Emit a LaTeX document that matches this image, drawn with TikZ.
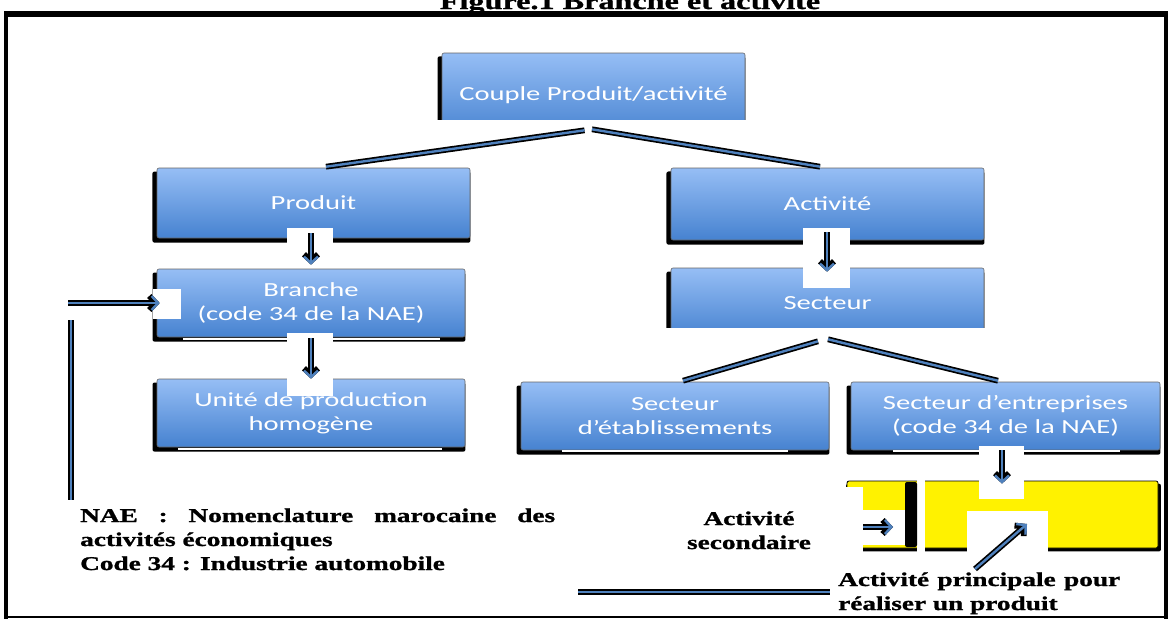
\documentclass[tikz,border=0pt]{standalone}
\usepackage{fontspec}
\usetikzlibrary{arrows.meta,shadows,calc}
\newfontfamily\boxfont[FakeStretch=1.43]{Carlito}
\newfontfamily\serbf[FakeStretch=1.4,BoldFeatures={FakeBold=1.2}]{Liberation Serif}
\definecolor{lnblue}{RGB}{79,129,189}
\definecolor{boxtop}{RGB}{150,190,245}
\definecolor{boxbot}{RGB}{70,130,208}
\tikzset{
  bluebox/.style={rounded corners=2pt, top color=boxtop, bottom color=boxbot,
    draw=black!60, line width=0.6pt, text=white, align=center, inner sep=0pt,
    font=\boxfont\fontsize{20}{24}\selectfont,
    general shadow={fill=black, shadow xshift=-2pt, shadow yshift=-4pt, shadow scale=1.016}},
  yelbox/.style={rounded corners=2pt, fill=yellow, draw=black, line width=0.8pt,
    general shadow={fill=black, shadow xshift=1pt, shadow yshift=-3pt, shadow scale=1.012}},
  conn/.style={draw=lnblue, line width=2.4pt, preaction={draw=black, line width=5.8pt}},
  arr/.style={conn, -{Straight Barb[length=6.5pt,width=14pt]}},
  blacktext/.style={font=\serbf\bfseries\fontsize{19.5}{24}\selectfont, inner sep=0pt, text=black},
  patch/.style={fill=white, draw=none},
  wstrip/.style={draw=white, line width=2pt}
}
\begin{document}
\begin{tikzpicture}[x=1pt,y=-1pt]
\useasboundingbox (0,0) rectangle (1172,619);
% title (partly cut off at the top, as in the reference)
\node[blacktext, font=\serbf\bfseries\fontsize{23}{26}\selectfont, anchor=base] (title) at (630,9) {Figure.1 Branche et activité};
% frame
\draw[line width=6pt] (4,14) -- (1168,14);
\draw[line width=4pt] (6,12) -- (6,619);
\draw[line width=4pt] (1166,12) -- (1166,619);
\draw[line width=2pt] (5,617) -- (1167,617);

% boxes
\node[bluebox, minimum width=303pt, minimum height=84pt] (couple) at (593.5,95) {Couple Produit/activité};
\node[bluebox, minimum width=313pt, minimum height=70pt] (produit) at (313.5,203) {Produit};
\node[bluebox, minimum width=313pt, minimum height=72pt] (activite) at (827.5,204) {Activité};
\node[bluebox, minimum width=308pt, minimum height=68pt] (branche) at (311,303) {Branche\\(code 34 de la NAE)};
\node[bluebox, minimum width=313pt, minimum height=70pt] (secteur) at (827.5,303) {Secteur};
\node[bluebox, minimum width=308pt, minimum height=68pt] (unite) at (311,413) {Unité de production\\homogène};
\node[bluebox, minimum width=308pt, minimum height=68pt] (etab) at (675,416) {Secteur\\d’établissements};
\node[bluebox, minimum width=309pt, minimum height=68pt] (entre) at (1005.5,416) {Secteur d’entreprises\\(code 34 de la NAE)};
\node[yelbox, minimum width=311pt, minimum height=67pt] (jaune) at (1002.5,514.5) {};

% white strips at box bottoms
\draw[wstrip] (183,338.5) -- (440,338.5);
\draw[wstrip] (178,448.5) -- (442,448.5);
\draw[wstrip] (562,451) -- (788,451);
\draw[wstrip] (893,451) -- (1120,451);

% white patches
\fill[patch] (425,120) rectangle (765,146);
\fill[patch] (655,328) rectangle (1000,346);
\fill[patch] (287,228) rectangle (333,263);
\fill[patch] (287,333) rectangle (333,396);
\fill[patch] (803,228) rectangle (850,288);
\fill[patch] (979,446) rectangle (1024,499);
\fill[patch] (153,289) rectangle (181,319);
\fill[patch] (843,487) rectangle (863,552);
\fill[patch] (863,510) rectangle (905,545);
\fill[patch] (917,476) rectangle (925,554);
\fill[patch] (967,511) rectangle (1048,568);
\fill[black, rounded corners=2pt] (905,482) rectangle (917,547);

% tree connectors
\draw[conn] ($(couple.south)+(-9,-7)$) -- ($(produit.north)+(12.5,-1)$);
\draw[conn] ($(couple.south)+(-1.5,-8)$) -- ($(activite.north)+(-7.5,-1)$);
\draw[conn] ($(secteur.south)+(-9.5,3)$) -- ($(etab.north)+(8,-1)$);
\draw[conn] ($(secteur.south)+(0.5,1)$) -- ($(entre.north)+(-7.5,-1)$);

% down arrows
\draw[arr] ($(produit.south)+(-2.5,-5)$) -- ($(branche.north)+(0,-4)$);
\draw[arr] ($(branche.south)+(0,1)$) -- ($(unite.north)+(0,0)$);
\draw[arr] ($(activite.south)+(-0.5,-8)$) -- ($(secteur.north)+(-0.5,4)$);
\draw[arr] ($(entre.south)+(-3.5,0)$) -- ($(jaune.north)+(-0.5,3)$);

% left side
\coordinate (la) at (68,303);
\coordinate (v1) at (71,320);
\coordinate (v2) at (71,500);
\draw[arr] (la) -- ($(branche.west)+(3,0)$);
\draw[conn] (v1) -- (v2);

% bottom texts
\node[blacktext, anchor=base west, align=left] (nae) at (80,570)
  {\hbox to 475pt{NAE\hfill:\hfill Nomenclature\hfill marocaine\hfill des}\\activités économiques\\Code 34 : Industrie automobile};
\node[blacktext, anchor=base, align=center] (second) at (749,549) {Activité\\secondaire};
\node[blacktext, anchor=base west, align=left] (princ) at (838,610)
  {\hbox to 282pt{Activité\hfill principale\hfill pour}\\réaliser un produit};

\coordinate (bl) at (578,592);
\draw[conn] (bl) -- ($(princ.west |- bl)+(-8,0)$);
\coordinate (sa) at (863,527);
\coordinate (sb) at (893,527);
\draw[arr] (sa) -- (sb);
\coordinate (da) at (975,569);
\coordinate (db) at (1027,524);
\draw[arr] (da) -- (db);
\end{tikzpicture}
\end{document}
